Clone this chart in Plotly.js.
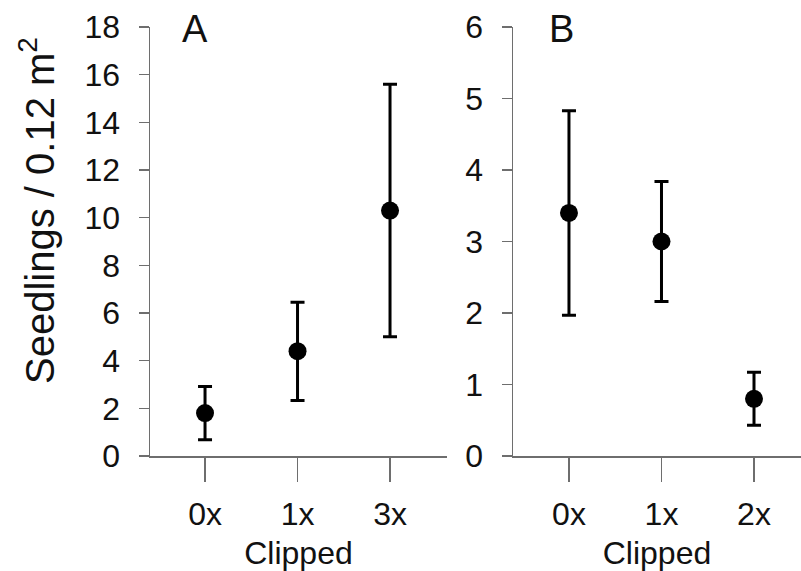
<!DOCTYPE html>
<html>
<head>
<meta charset="utf-8">
<script src="https://cdn.plot.ly/plotly-3.0.1.min.js"></script>
<style>html,body{margin:0;padding:0;background:#fff;}#chart{width:801px;height:571px;}</style>
</head>
<body>
<div id="chart"></div>
<script>
// Panel A
const catsA = ["0x", "1x", "3x"];
const meanA = [1.8, 4.4, 10.3];
const upperA = [2.92, 6.45, 15.6];
const lowerA = [0.68, 2.33, 5.0];
// Panel B
const catsB = ["0x", "1x", "2x"];
const meanB = [3.4, 3.0, 0.8];
const upperB = [4.83, 3.84, 1.17];
const lowerB = [1.97, 2.16, 0.43];

const yTitle = "Seedlings / 0.12 m<sup>2</sup>";
const xTitle = "Clipped";
const panelLabels = ["A", "B"];

const plusA = upperA.map((u, i) => u - meanA[i]);
const minusA = meanA.map((m, i) => m - lowerA[i]);
const plusB = upperB.map((u, i) => u - meanB[i]);
const minusB = meanB.map((m, i) => m - lowerB[i]);

const font = "Liberation Sans, Arial, sans-serif";
const axisGray = "#6e6e6e";
const txt = "#111";

function trace(x, y, plus, minus, xa, ya) {
  return {
    type: "scatter", mode: "markers", x: x, y: y, xaxis: xa, yaxis: ya,
    marker: {color: "#000", size: 18},
    error_y: {type: "data", symmetric: false, array: plus, arrayminus: minus,
      color: "#000", thickness: 3, width: 7},
    cliponaxis: false, showlegend: false, hoverinfo: "x+y"
  };
}

function xax(domain, range, anchor) {
  return {
    domain: domain, anchor: anchor, type: "category", range: range, showgrid: false, zeroline: false,
    showline: true, linecolor: axisGray, linewidth: 1.5,
    ticks: "outside", ticklen: 24, tickwidth: 1.5, tickcolor: axisGray,
    ticklabelstandoff: 5,
    tickfont: {family: font, size: 32, color: txt},
    title: {text: xTitle, font: {family: font, size: 32, color: txt}, standoff: 12},
    automargin: false, fixedrange: true
  };
}
function yax(anchor, range, dtick) {
  return {
    anchor: anchor, range: range, dtick: dtick, showgrid: false, zeroline: false,
    showline: true, linecolor: axisGray, linewidth: 1.5,
    ticks: "outside", ticklen: 10, tickwidth: 1.5, tickcolor: axisGray,
    ticklabelstandoff: 12,
    tickfont: {family: font, size: 32, color: txt},
    automargin: false, fixedrange: true
  };
}

const plotTop = 27, plotBottom = 456, plotH = plotBottom - plotTop;
const layout = {
  width: 801, height: 571,
  margin: {l: 0, r: 0, t: plotTop, b: 571 - plotBottom},
  paper_bgcolor: "#fff", plot_bgcolor: "#fff",
  xaxis: xax([150 / 801, 447 / 801], [-0.595, 2.616], "y"),
  yaxis: yax("x", [0, 18], 2),
  xaxis2: xax([513 / 801, 1], [-0.605, 2.508], "y2"),
  yaxis2: yax("x2", [0, 6], 1),
  annotations: [
    {text: yTitle, xref: "paper", yref: "paper", x: 37 / 801, y: (plotBottom - 211) / plotH,
      xanchor: "center", yanchor: "middle", textangle: -90, showarrow: false,
      font: {family: font, size: 40, color: txt}},
    {text: panelLabels[0], xref: "paper", yref: "paper", x: 195 / 801, y: (plotBottom - 29) / plotH,
      xanchor: "center", yanchor: "middle", showarrow: false, font: {family: font, size: 38, color: txt}},
    {text: panelLabels[1], xref: "paper", yref: "paper", x: 561 / 801, y: (plotBottom - 29) / plotH,
      xanchor: "center", yanchor: "middle", showarrow: false, font: {family: font, size: 38, color: txt}}
  ]
};

Plotly.newPlot("chart", [
  trace(catsA, meanA, plusA, minusA, "x", "y"),
  trace(catsB, meanB, plusB, minusB, "x2", "y2")
], layout, {staticPlot: true});
</script>
</body>
</html>
